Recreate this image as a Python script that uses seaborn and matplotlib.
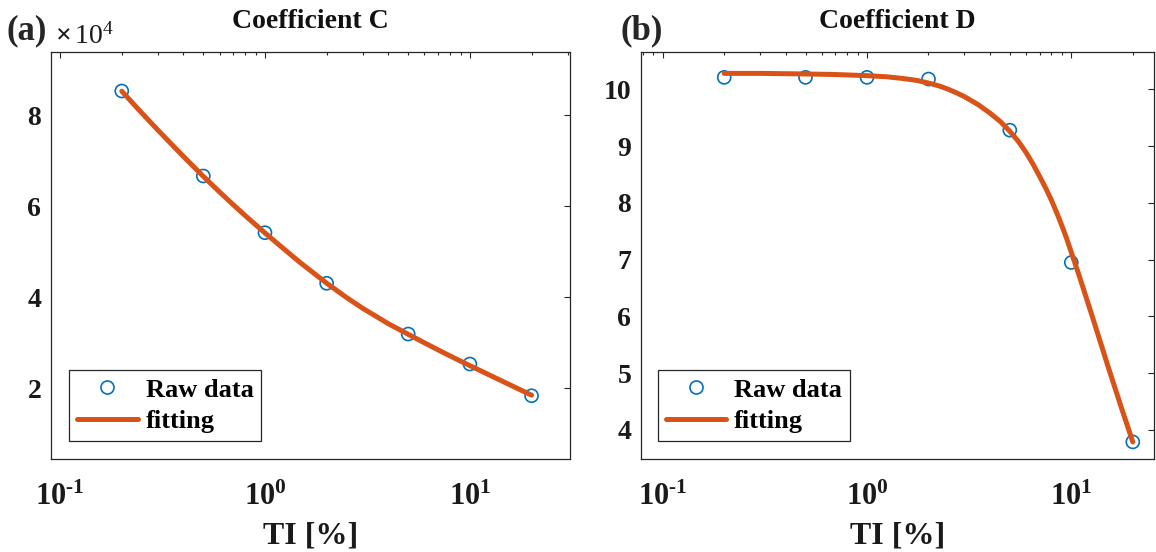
import numpy as np
import pandas as pd
import matplotlib
matplotlib.use("Agg")
import matplotlib.pyplot as plt
import seaborn as sns
from matplotlib.lines import Line2D
from matplotlib.ticker import FixedLocator, LogLocator, NullFormatter, FuncFormatter

# ---------------- data ----------------
ti_raw = [0.2, 0.5, 1, 2, 5, 10, 20]
c_raw = [85340, 66660, 54200, 43080, 31930, 25340, 18370]
d_raw = [10.21, 10.21, 10.21, 10.18, 9.28, 6.95, 3.79]

ti_fit_c = [0.2, 0.25, 0.3, 0.4, 0.5, 0.6, 0.7, 0.8, 1, 1.2, 1.5, 2, 2.5, 3, 4, 5,
            6, 7, 8, 10, 12.5, 15, 17.5, 20]
c_fit = [85300, 80550, 76760, 70950, 66580, 63160, 60350, 57970, 54140, 51120, 47480,
         43100, 39950, 37580, 34200, 31870, 30000, 28440, 27120, 24990, 22890, 21180,
         19740, 18500]

ti_fit_d = [0.2, 0.3, 0.5, 0.7, 1, 1.25, 1.5, 1.75, 2, 2.25, 2.5, 2.75, 3, 3.5, 4, 4.5,
            5, 5.5, 6, 6.5, 7, 7.5, 8, 8.5, 9, 9.5, 10, 11, 12.5, 14, 15, 17.5, 20]
d_fit = [10.28, 10.28, 10.27, 10.26, 10.24, 10.22, 10.19, 10.157, 10.11, 10.06, 10.00,
         9.936, 9.87, 9.73, 9.58, 9.43, 9.26, 9.085, 8.89, 8.68, 8.465, 8.257, 8.044,
         7.82, 7.595, 7.367, 7.13, 6.687, 6.065, 5.506, 5.161, 4.416, 3.79]

x_tick_vals = [0.1, 1, 10]
x_tick_labels = [r"$\mathbf{10^{\text{-}1}}$", r"$\mathbf{10^{0}}$", r"$\mathbf{10^{1}}$"]
c_yticks = [20000, 40000, 60000, 80000]
d_yticks = [4, 5, 6, 7, 8, 9, 10]

titles = ["Coefficient C", "Coefficient D"]
panel_tags = ["(a)", "(b)"]
legend_labels = ["Raw data", "fitting"]
xlabel = "TI [%]"

BLUE = "#0072BD"
ORANGE = "#D95319"
DARK = "#262626"

# ---------------- style ----------------
sns.set_theme(style="white")
plt.rcParams["font.family"] = ["Liberation Serif", "DejaVu Serif"]
plt.rcParams["font.weight"] = "bold"
plt.rcParams["mathtext.fontset"] = "custom"
plt.rcParams["mathtext.rm"] = "Liberation Serif"
plt.rcParams["mathtext.it"] = "Liberation Serif:italic"
plt.rcParams["mathtext.bf"] = "Liberation Serif:bold"
plt.rcParams["axes.edgecolor"] = DARK
plt.rcParams["axes.linewidth"] = 0.9

fig = plt.figure(figsize=(11.56, 5.52), dpi=100)
W, H = 1156, 552
ax1 = fig.add_axes([51 / W, 1 - 459.3 / H, 519 / W, 407.6 / H])
ax2 = fig.add_axes([641 / W, 1 - 459.3 / H, 513 / W, 407.6 / H])

raw_c = pd.DataFrame({"TI": ti_raw, "val": c_raw})
fit_c = pd.DataFrame({"TI": ti_fit_c, "val": c_fit})
raw_d = pd.DataFrame({"TI": ti_raw, "val": d_raw})
fit_d = pd.DataFrame({"TI": ti_fit_d, "val": d_fit})

configs = [
    (ax1, raw_c, fit_c, (0.0903, 30.8), (4400, 93980), c_yticks, titles[0], (69 - 51) / 519),
    (ax2, raw_d, fit_d, (0.0783, 25.4), (3.484, 10.662), d_yticks, titles[1], (657.7 - 641) / 513),
]

for ax, raw, fit, xl, yl, yt, title, legx in configs:
    ax.set_xscale("log")
    sns.scatterplot(data=raw, x="TI", y="val", ax=ax, marker="o", s=88, legend=False, zorder=2)
    coll = ax.collections[-1]
    coll.set_facecolor("none")
    coll.set_edgecolor(BLUE)
    coll.set_linewidth(1.2)
    sns.lineplot(data=fit, x="TI", y="val", ax=ax, color=ORANGE, lw=3.6,
                 errorbar=None, legend=False, zorder=3)
    ax.set_xlim(*xl)
    ax.set_ylim(*yl)
    ax.xaxis.set_major_locator(FixedLocator(x_tick_vals))
    ax.set_xticklabels(x_tick_labels)
    ax.xaxis.set_minor_locator(LogLocator(base=10, subs=np.arange(2, 10)))
    ax.xaxis.set_minor_formatter(NullFormatter())
    ax.yaxis.set_major_locator(FixedLocator(yt))
    ax.tick_params(axis="both", which="both", direction="in", top=True, right=True,
                   colors=DARK, width=0.8)
    ax.tick_params(axis="both", which="major", length=4)
    ax.tick_params(axis="both", which="minor", length=2.3)
    ax.tick_params(axis="x", which="major", labelsize=22, pad=17, labelcolor="#1a1a1a")
    ax.tick_params(axis="y", which="major", labelsize=20, pad=7, labelcolor="#1a1a1a")
    ax.set_xlabel(xlabel, fontsize=23, fontweight="bold", labelpad=7, color="#1a1a1a")
    ax.set_ylabel("")
    ax.set_title(title, fontsize=20, fontweight="bold", pad=17, color="#111111")
    for sp in ax.spines.values():
        sp.set_visible(True)
        sp.set_color(DARK)
    handles = [
        Line2D([], [], marker="o", ls="none", mfc="none", mec=BLUE, ms=9.4, mew=1.2),
        Line2D([], [], color=ORANGE, lw=3.6),
    ]
    leg = ax.legend(handles, legend_labels, loc="lower left",
                    bbox_to_anchor=(legx, 18.3 / 407.6),
                    borderaxespad=0, fontsize=19, handlelength=2.3, handletextpad=0.3,
                    borderpad=0.3, labelspacing=0.3, fancybox=False, framealpha=1,
                    edgecolor=DARK)
    leg.get_frame().set_linewidth(0.9)
    for t in leg.get_texts():
        t.set_fontweight("bold")
        t.set_color("black")

ax1.yaxis.set_major_formatter(FuncFormatter(lambda v, p: f"{v / 1e4:.0f}"))

ax1.text(0.008, 1.0206, r"$\times\,\mathregular{10^{4}}$", transform=ax1.transAxes,
         fontsize=20, fontweight="normal", va="baseline", ha="left", color="#1a1a1a")

fig.text(7 / W, 1 - 39.5 / H, panel_tags[0], fontsize=25, fontweight="bold", va="baseline", ha="left")
fig.text(620 / W, 1 - 39.5 / H, panel_tags[1], fontsize=25, fontweight="bold", va="baseline", ha="left")

fig.savefig("out.png", dpi=100)
